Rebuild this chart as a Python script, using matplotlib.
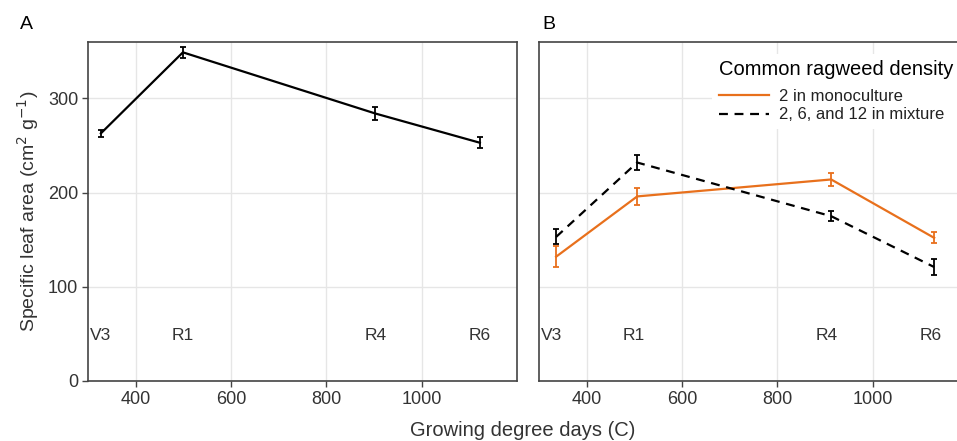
import matplotlib.pyplot as plt
from matplotlib.lines import Line2D

plt.rcParams['font.family'] = ['Liberation Sans', 'DejaVu Sans']

# growing degree days of each sampling
gdd_a = [327, 499, 903, 1122]
sla_a = [263, 349, 284, 253]
err_a = [4, 6, 7, 6]

gdd_b = [336, 506, 913, 1129]
sla_mono = [132, 196, 214, 152]
err_mono = [11, 9, 7, 6]
sla_mix = [153, 232, 175, 121]
err_mix = [8, 7.5, 5, 8.5]

stages = ['V3', 'R1', 'R4', 'R6']
stage_x = [327, 499, 903, 1122]
stage_y = 48

orange = '#E8701C'
dark = '#333333'
dash = (0, (4, 3))

fig = plt.figure(figsize=(9.57, 4.41), dpi=100)
axA = fig.add_axes([0.0920, 0.1361, 0.4483, 0.7687])
axB = fig.add_axes([0.5632, 0.1361, 0.4483, 0.7687])

for ax in (axA, axB):
    ax.set_xlim(300, 1200)
    ax.set_ylim(0, 360)
    ax.set_xticks([400, 600, 800, 1000])
    ax.set_yticks([0, 100, 200, 300])
    ax.grid(True, color='#e6e6e6', linewidth=1)
    ax.set_axisbelow(True)
    for s in ax.spines.values():
        s.set_color('#444444')
        s.set_linewidth(1.2)
    ax.tick_params(direction='out', length=4, width=1, color='#444444',
                   labelsize=13, labelcolor=dark, pad=3)
    for lab, xs in zip(stages, stage_x):
        ax.text(xs, stage_y, lab, ha='center', va='center', fontsize=12.5, color=dark)

# panel A
axA.errorbar(gdd_a, sla_a, yerr=err_a, color='black', linewidth=1.6,
             elinewidth=1.3, capsize=2.5, capthick=1.3)
axA.set_ylabel('Specific leaf area (cm$^2$ g$^{-1}$)', fontsize=14, color=dark, labelpad=5)

# panel B
axB.errorbar(gdd_b, sla_mono, yerr=err_mono, color=orange, linewidth=1.6,
             elinewidth=1.3, capsize=2.5, capthick=1.3)
axB.errorbar(gdd_b, sla_mix, yerr=err_mix, color='black', linewidth=1.6, linestyle=dash,
             elinewidth=1.3, capsize=2.5, capthick=1.3)
axB.set_yticklabels([])
axB.tick_params(axis='y', length=0)

handles = [Line2D([], [], color=orange, linewidth=1.6),
           Line2D([], [], color='black', linewidth=1.6, linestyle=dash)]
labels = ['2 in monoculture', '2, 6, and 12 in mixture']
leg = axB.legend(handles, labels, title='Common ragweed density', loc='upper left',
                 bbox_to_anchor=(0.385, 0.99), fontsize=12, title_fontsize=14.5,
                 frameon=True, facecolor='white', edgecolor='none', framealpha=1,
                 handlelength=3.0, handletextpad=0.6, labelspacing=0.2,
                 alignment='left', borderpad=0.4, fancybox=False)
leg.get_title().set_color('black')
leg._legend_box.sep = 7
leg._legend_handle_box.get_children()[0].pad = 0
for t in leg.get_texts():
    t.set_color('#222222')

fig.text(0.021, 0.945, 'A', fontsize=14, color='black', ha='left', va='center')
fig.text(0.567, 0.945, 'B', fontsize=14, color='black', ha='left', va='center')
fig.text(0.546, 0.024, 'Growing degree days (C)', fontsize=14.5, color=dark, ha='center', va='center')

plt.savefig('out.png', dpi=100)
